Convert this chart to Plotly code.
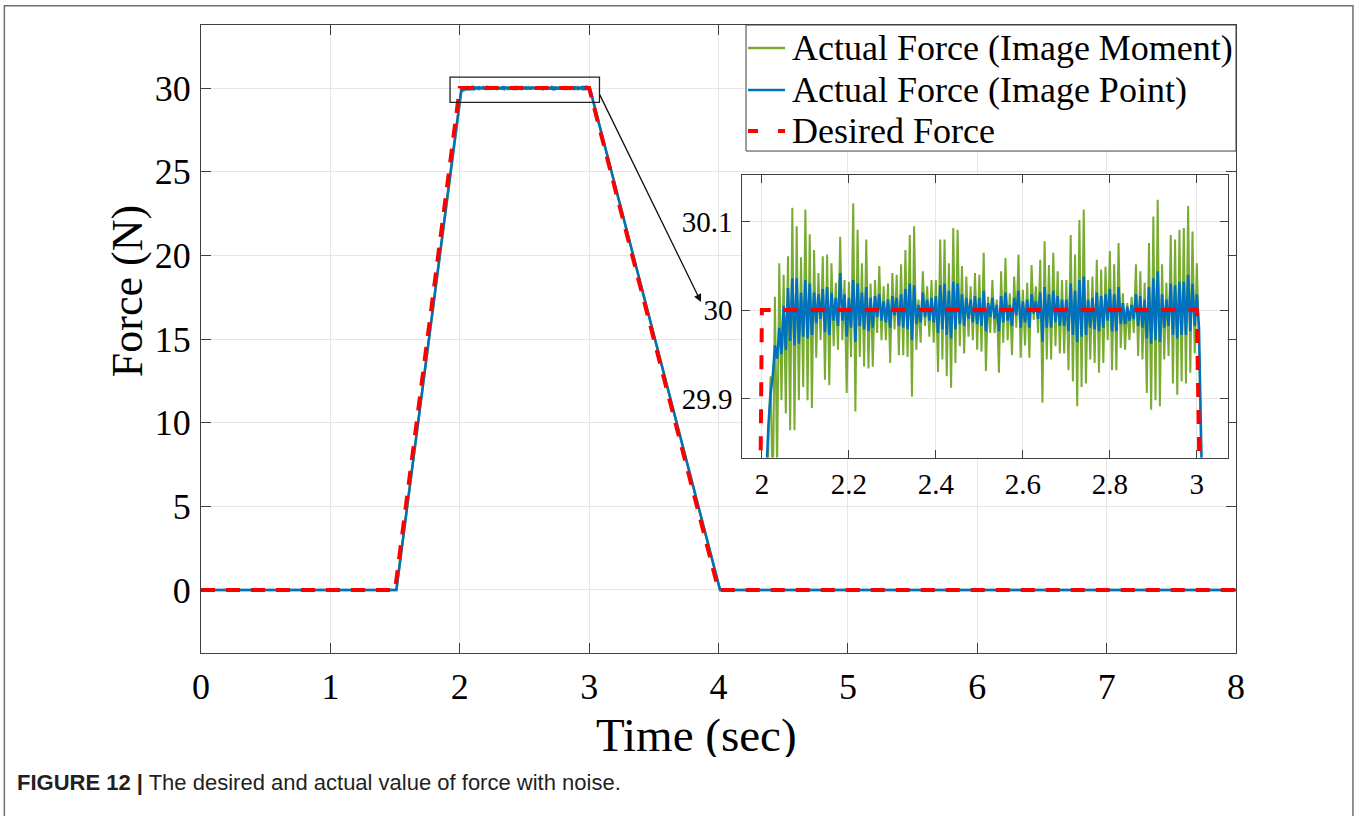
import numpy as np
import plotly.graph_objects as go

# ---------------- data ----------------
# desired force profile
desired_t = [0.0, 1.5, 2.0, 3.0, 4.0, 8.0]
desired_f = [0.0, 0.0, 30.0, 30.0, 0.0, 0.0]

# actual force: lead-in (before plateau) and tail (after plateau)
lead_t = [0.0, 1.51]
lead_f = [0.0, 0.0]
tail_t = [3.012, 4.012, 8.0]
green_tail_f = [29.79, 0.0, 0.0]
blue_tail_f = [29.80, 0.0, 0.0]

# plateau samples (2.010 s ... 3.005 s, 5 ms sampling)
plateau_t = np.round(2.010 + 0.005 * np.arange(200), 3)

green_plateau = [
    29.670, 29.850, 29.925, 29.780, 30.015, 29.820, 30.053, 29.898, 30.040, 29.883,
    30.061, 29.864, 30.116, 29.864, 30.095, 29.898, 30.060, 29.913, 30.114, 29.898,
    30.086, 29.889, 30.068, 29.946, 30.042, 29.966, 30.061, 29.921, 30.063, 29.915,
    30.053, 29.959, 30.031, 29.955, 30.083, 29.966, 30.034, 29.906, 30.032, 29.947,
    30.121, 29.885, 30.091, 29.947, 30.053, 29.936, 30.080, 29.934, 30.030, 29.936,
    30.034, 29.974, 30.050, 29.966, 30.027, 29.966, 30.030, 29.940, 30.042, 29.978,
    30.040, 29.949, 30.052, 29.949, 30.068, 29.947, 30.085, 29.902, 30.095, 29.955,
    30.012, 29.963, 30.044, 29.982, 30.027, 29.970, 30.034, 29.963, 30.034, 29.930,
    30.080, 29.944, 30.080, 29.925, 30.053, 29.912, 30.093, 29.940, 30.091, 29.959,
    30.050, 29.951, 30.038, 29.970, 30.027, 29.966, 30.042, 29.955, 30.040, 29.953,
    30.065, 29.931, 30.015, 29.974, 30.034, 29.974, 30.012, 29.929, 30.044, 29.963,
    30.059, 29.966, 30.019, 29.949, 30.038, 29.980, 30.063, 29.946, 30.023, 29.960,
    30.031, 29.946, 30.051, 29.989, 30.027, 29.974, 30.057, 29.895, 30.078, 29.944,
    30.051, 29.944, 30.065, 29.959, 30.044, 29.951, 30.034, 29.951, 30.034, 29.932,
    30.085, 29.919, 30.063, 29.891, 30.102, 29.913, 30.114, 29.917, 30.034, 29.944,
    30.038, 29.940, 30.057, 29.929, 30.046, 29.940, 30.049, 29.966, 30.067, 29.932,
    30.052, 29.932, 30.076, 29.957, 30.019, 29.955, 30.008, 29.966, 30.015, 29.974,
    30.052, 29.948, 30.044, 29.944, 30.031, 29.906, 30.076, 29.887, 30.106, 29.898,
    30.125, 29.891, 30.052, 29.944, 30.031, 29.948, 30.085, 29.917, 30.080, 29.904,
    30.091, 29.919, 30.093, 29.917, 30.118, 29.929, 30.089, 29.951, 30.053, 29.960,
]

blue_plateau = [
    29.810, 29.870, 29.905, 29.925, 29.960, 29.945, 29.980, 29.950, 30.005, 29.955,
    30.025, 29.965, 30.036, 29.960, 30.036, 29.962, 30.020, 29.970, 30.034, 29.968,
    30.030, 29.972, 30.020, 29.985, 30.018, 29.990, 30.024, 29.975, 30.026, 29.972,
    30.020, 29.988, 30.014, 29.982, 30.042, 29.988, 30.018, 29.970, 30.014, 29.980,
    30.034, 29.964, 30.030, 29.982, 30.020, 29.978, 30.026, 29.976, 30.014, 29.980,
    30.016, 29.992, 30.018, 29.988, 30.010, 29.986, 30.012, 29.980, 30.016, 29.994,
    30.014, 29.982, 30.018, 29.980, 30.024, 29.978, 30.030, 29.966, 30.028, 29.984,
    30.006, 29.986, 30.020, 29.992, 30.012, 29.988, 30.014, 29.986, 30.016, 29.974,
    30.028, 29.978, 30.030, 29.972, 30.022, 29.968, 30.032, 29.978, 30.030, 29.984,
    30.018, 29.982, 30.014, 29.990, 30.012, 29.986, 30.016, 29.984, 30.014, 29.982,
    30.022, 29.976, 30.008, 29.992, 30.014, 29.990, 30.006, 29.976, 30.016, 29.986,
    30.020, 29.988, 30.006, 29.982, 30.014, 29.994, 30.022, 29.980, 30.010, 29.986,
    30.012, 29.980, 30.018, 29.996, 30.010, 29.990, 30.020, 29.964, 30.026, 29.980,
    30.018, 29.980, 30.022, 29.986, 30.016, 29.982, 30.012, 29.982, 30.012, 29.976,
    30.030, 29.972, 30.022, 29.964, 30.034, 29.970, 30.038, 29.972, 30.012, 29.980,
    30.014, 29.978, 30.020, 29.976, 30.016, 29.980, 30.018, 29.988, 30.024, 29.976,
    30.018, 29.976, 30.026, 29.984, 30.008, 29.984, 30.004, 29.988, 30.006, 29.990,
    30.018, 29.982, 30.016, 29.980, 30.012, 29.968, 30.026, 29.962, 30.036, 29.966,
    30.044, 29.964, 30.018, 29.980, 30.012, 29.982, 30.030, 29.972, 30.028, 29.968,
    30.032, 29.972, 30.032, 29.972, 30.040, 29.976, 30.030, 29.982, 30.018, 29.980,
]

series_names = ["Actual Force (Image Moment)", "Actual Force (Image Point)", "Desired Force"]
x_ticks_main = [0, 1, 2, 3, 4, 5, 6, 7, 8]
y_ticks_main = [0, 5, 10, 15, 20, 25, 30]
x_ticks_inset = [2.0, 2.2, 2.4, 2.6, 2.8, 3.0]
x_ticklabels_inset = ["2", "2.2", "2.4", "2.6", "2.8", "3"]
y_ticks_inset = [29.9, 30.0, 30.1]
y_ticklabels_inset = ["29.9", "30", "30.1"]

# ---------------- build ----------------
GREEN = "#77AC30"
BLUE = "#0072BD"
RED = "#FF0000"
SERIF = "Liberation Serif, Times New Roman, serif"
colors = [GREEN, BLUE, RED]

green_t = list(lead_t) + list(plateau_t) + list(tail_t)
green_f = list(lead_f) + list(green_plateau) + list(green_tail_f)
blue_t = list(lead_t) + list(plateau_t) + list(tail_t)
blue_f = list(lead_f) + list(blue_plateau) + list(blue_tail_f)

fig = go.Figure()

# main axes
fig.add_trace(go.Scatter(x=green_t, y=green_f, mode="lines", name=series_names[0], showlegend=False,
                         line=dict(color=GREEN, width=2.5), xaxis="x", yaxis="y"))
fig.add_trace(go.Scatter(x=blue_t, y=blue_f, mode="lines", name=series_names[1], showlegend=False,
                         line=dict(color=BLUE, width=2.5), xaxis="x", yaxis="y"))
fig.add_trace(go.Scatter(x=desired_t, y=desired_f, mode="lines", name=series_names[2], showlegend=False,
                         line=dict(color=RED, width=4, dash="14px,11px"), xaxis="x", yaxis="y"))

# inset axes
fig.add_trace(go.Scatter(x=green_t, y=green_f, mode="lines", showlegend=False,
                         line=dict(color=GREEN, width=2), xaxis="x2", yaxis="y2"))
fig.add_trace(go.Scatter(x=blue_t, y=blue_f, mode="lines", showlegend=False,
                         line=dict(color=BLUE, width=2.5), xaxis="x2", yaxis="y2"))
fig.add_trace(go.Scatter(x=desired_t, y=desired_f, mode="lines", showlegend=False,
                         line=dict(color=RED, width=4, dash="14px,13px"), xaxis="x2", yaxis="y2"))

axis_common = dict(
    showline=True, linecolor="#404040", linewidth=1, mirror="ticks",
    ticks="inside", tickcolor="#404040", showgrid=True, gridcolor="#e6e6e6",
    gridwidth=1, zeroline=False,
)

fig.update_layout(
    width=1359, height=816,
    margin=dict(l=201, r=123, t=25, b=163),
    paper_bgcolor="white", plot_bgcolor="white",
    font=dict(family=SERIF, color="black"),
    xaxis=dict(**axis_common, domain=[0, 1], range=[0, 8], tickvals=x_ticks_main,
               ticklen=10, tickfont=dict(size=36, family=SERIF), ticklabelstandoff=2),
    yaxis=dict(**axis_common, domain=[0, 1], range=[-3.77, 33.77], tickvals=y_ticks_main,
               ticklen=10, tickfont=dict(size=36, family=SERIF), ticklabelstandoff=2),
    xaxis2=dict(**axis_common, domain=[0.523, 0.992], range=[1.955, 3.071], anchor="y2",
                tickvals=x_ticks_inset, ticktext=x_ticklabels_inset, ticklen=8,
                tickfont=dict(size=29, family=SERIF), ticklabelstandoff=1),
    yaxis2=dict(**axis_common, domain=[0.3113, 0.761], range=[29.833, 30.153], anchor="x2",
                tickvals=y_ticks_inset, ticktext=y_ticklabels_inset, ticklen=8,
                tickfont=dict(size=29, family=SERIF), ticklabelstandoff=3),
    showlegend=False,
)

# axis titles
fig.add_annotation(xref="paper", yref="paper", x=0.4783, y=-0.1300, xanchor="center",
                   yanchor="middle", showarrow=False, text="Time (sec)", height=44,
                   borderpad=0, valign="middle",
                   font=dict(size=47, family=SERIF, color="black"))
fig.add_annotation(xref="paper", yref="paper", x=-0.0715, y=0.5762, xanchor="center",
                   yanchor="middle", showarrow=False, text="Force (N)", textangle=-90,
                   font=dict(size=44, family=SERIF, color="black"))

# zoom box on main plot
fig.add_shape(type="rect", xref="x", yref="y", x0=1.925, x1=3.08, y0=29.15, y1=30.65,
              line=dict(color="#222222", width=1.3), fillcolor="rgba(0,0,0,0)", layer="above")

# arrow from zoom box to inset
fig.add_annotation(x=3.865, y=17.21, ax=3.076, ay=29.7, xref="x", yref="y",
                   axref="x", ayref="y", showarrow=True, arrowhead=2, arrowsize=1.2,
                   arrowwidth=1.3, arrowcolor="#111111", text="")

# legend (box, line samples, labels)
fig.add_shape(type="rect", xref="paper", yref="paper", x0=0.5266, x1=1.0, y0=0.7993, y1=1.0,
              line=dict(color="#404040", width=1), fillcolor="white", layer="above")
legend_rows_y = [0.9634, 0.8964, 0.8311]
legend_dash = ["solid", "solid", "10px,20px"]
legend_widths = [2.5, 2.5, 4]
for name, col, yy, dsh, lw in zip(series_names, colors, legend_rows_y, legend_dash, legend_widths):
    fig.add_shape(type="line", xref="paper", yref="paper", x0=0.5285, x1=0.5643, y0=yy, y1=yy,
                  line=dict(color=col, width=lw, dash=dsh), layer="above")
    fig.add_annotation(xref="paper", yref="paper", x=0.5691, y=yy, xanchor="left",
                       yanchor="middle", showarrow=False, text=name,
                       font=dict(size=36, family=SERIF, color="black"))

# outer figure frame
fig.add_shape(type="rect", xref="paper", yref="paper", x0=-0.1900, x1=1.1130,
              y0=-0.30, y1=1.0307, line=dict(color="#707070", width=1.5),
              fillcolor="rgba(0,0,0,0)", layer="above")

# caption
fig.add_annotation(xref="paper", yref="paper", x=-0.1797, y=-0.207, xanchor="left",
                   yanchor="middle", showarrow=False,
                   text="<b>FIGURE 12 |</b> The desired and actual value of force with noise.",
                   font=dict(family="Liberation Sans, Arial, sans-serif", size=22, color="#231f20"))

fig.write_html("out.html", config={"displayModeBar": False},
               post_script="document.body.style.margin='0';")
